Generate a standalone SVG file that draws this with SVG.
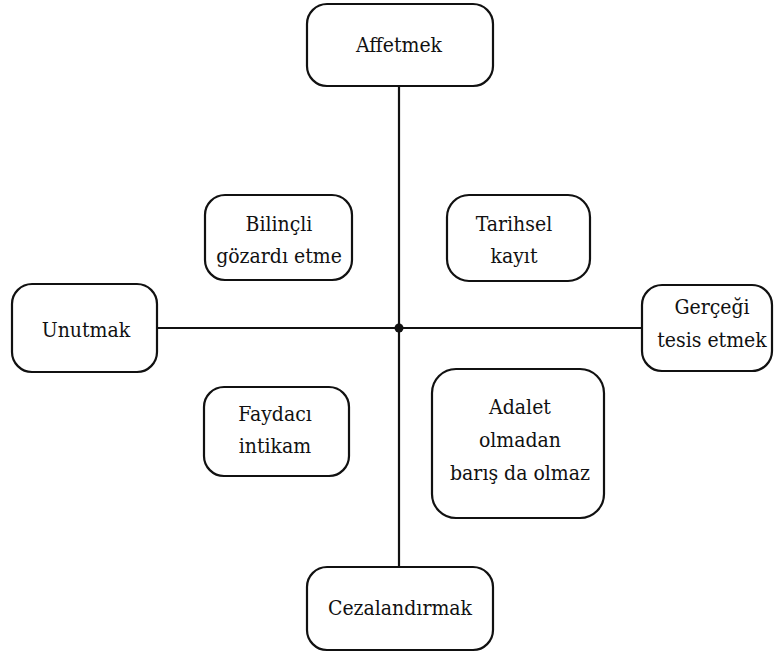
<svg xmlns="http://www.w3.org/2000/svg" width="774" height="652" viewBox="0 0 774 652">
<style>
.box{fill:#fff;stroke:#111;stroke-width:2.2}
text{font-family:'DejaVu Serif','Liberation Serif',serif;font-stretch:condensed;font-size:21px;fill:#111;text-anchor:middle}
.ln{stroke:#111;stroke-width:2.2;fill:none}
</style>
<rect width="774" height="652" fill="#fff"/>
<g id="connectors">
<line class="ln" x1="399" y1="86" x2="399" y2="567"/>
<line class="ln" x1="157" y1="328" x2="642" y2="328"/>
<circle cx="399" cy="328" r="4.5" fill="#111"/>
</g>
<g id="affetmek"><rect class="box" x="307" y="4" width="186" height="82" rx="20"/><text x="399" y="52">Affetmek</text></g>
<g id="unutmak"><rect class="box" x="12" y="284" width="145" height="88" rx="20"/><text x="86" y="337">Unutmak</text></g>
<g id="gercegi"><rect class="box" x="642" y="285" width="130" height="86" rx="20"/><text x="712" y="314">Gerçeği</text><text x="712" y="347">tesis etmek</text></g>
<g id="bilincli"><rect class="box" x="205" y="195" width="147" height="85" rx="20"/><text x="279" y="231">Bilinçli</text><text x="279" y="263">gözardı etme</text></g>
<g id="tarihsel"><rect class="box" x="447" y="195" width="143" height="86" rx="22"/><text x="514" y="231">Tarihsel</text><text x="514" y="263">kayıt</text></g>
<g id="faydaci"><rect class="box" x="204" y="387" width="145" height="89" rx="20"/><text x="275" y="421">Faydacı</text><text x="275" y="453">intikam</text></g>
<g id="adalet"><rect class="box" x="432" y="369" width="172" height="149" rx="24"/><text x="520" y="414">Adalet</text><text x="520" y="447">olmadan</text><text x="520" y="480">barış da olmaz</text></g>
<g id="cezalandirmak"><rect class="box" x="307" y="567" width="186" height="83" rx="20"/><text x="400" y="615">Cezalandırmak</text></g>
</svg>
